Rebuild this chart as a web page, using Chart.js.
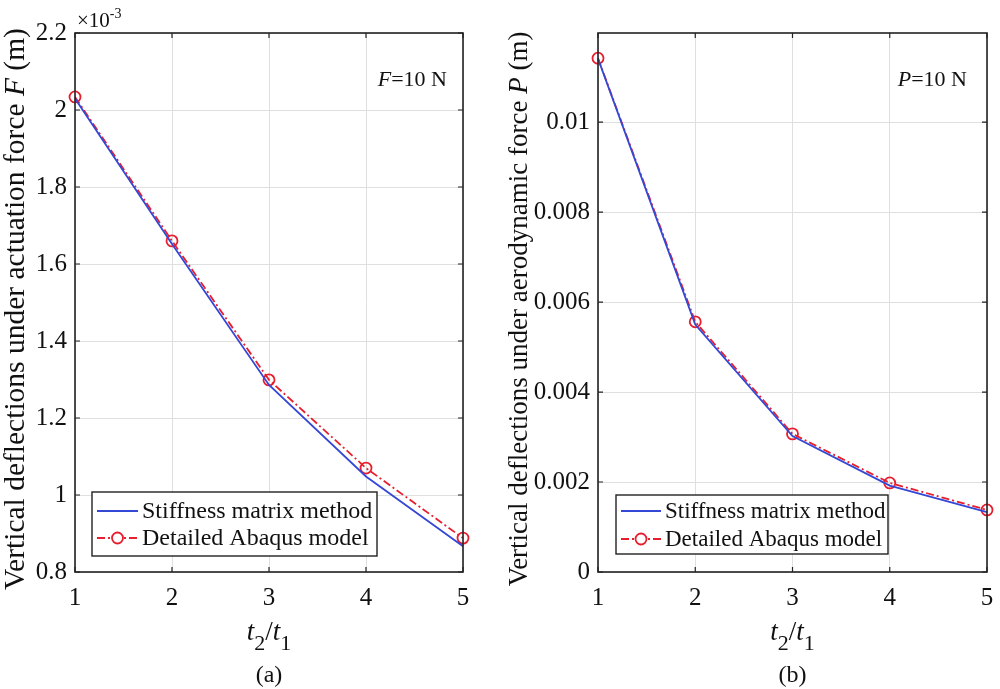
<!DOCTYPE html>
<html>
<head>
<meta charset="utf-8">
<script src="https://cdn.jsdelivr.net/npm/chart.js@4.4.1/dist/chart.umd.min.js"></script>
<style>
  body { margin: 0; background: #fff; }
  .box { position: absolute; top: 0; width: 500px; height: 689px; }
</style>
</head>
<body>
<div class="box" style="left:0"><canvas id="chartA"></canvas></div>
<div class="box" style="left:500px"><canvas id="chartB"></canvas></div>
<script>
// t2/t1 ratio
const ratios = [1, 2, 3, 4, 5];

// (a) deflection under actuation force F, in units of 1e-3 m
const stiffA = [2.030, 1.652, 1.286, 1.048, 0.867];
const abaqusA = [2.034, 1.660, 1.299, 1.070, 0.888];
const yTicksA = [0.8, 1.0, 1.2, 1.4, 1.6, 1.8, 2.0, 2.2];

// (b) deflection under aerodynamic force P, in m
const stiffB = [0.01141, 0.00550, 0.00302, 0.00192, 0.00133];
const abaqusB = [0.01142, 0.00556, 0.00307, 0.00198, 0.00138];
const yTicksB = [0, 0.002, 0.004, 0.006, 0.008, 0.01];

const xTicks = [1, 2, 3, 4, 5];
const seriesNames = ["Stiffness matrix method", "Detailed Abaqus model"];

const SERIF = "'Liberation Serif', 'Times New Roman', serif";
const BLUE = "rgb(52,72,214)";
const RED = "rgb(232,30,46)";
const DASHDOT = [8, 3, 2, 3];

const toPts = (ys) => ratios.map((x, i) => ({ x: x, y: ys[i] }));

// draws a run of text pieces with different fonts, left to right
const drawRuns = (ctx, runs, x, y, align) => {
  let total = 0;
  runs.forEach(r => { ctx.font = r.font; total += ctx.measureText(r.text).width; });
  let cx = align === "center" ? x - total / 2 : (align === "right" ? x - total : x);
  ctx.textAlign = "left";
  runs.forEach(r => {
    ctx.font = r.font;
    ctx.fillText(r.text, cx, y + (r.dy || 0));
    cx += ctx.measureText(r.text).width;
  });
};

const matlabFrame = {
  id: "matlabFrame",
  afterDraw(chart, args, o) {
    const { ctx, chartArea: a } = chart;
    const xs = chart.scales.x, ys = chart.scales.y;
    ctx.save();
    ctx.fillStyle = "#111";
    ctx.strokeStyle = "#222";

    // inward tick marks
    ctx.lineWidth = 1.2;
    ctx.beginPath();
    ys.ticks.forEach(t => {
      const y = ys.getPixelForValue(t.value);
      ctx.moveTo(a.left, y); ctx.lineTo(a.left + 5, y);
      ctx.moveTo(a.right, y); ctx.lineTo(a.right - 5, y);
    });
    xs.ticks.forEach(t => {
      const x = xs.getPixelForValue(t.value);
      ctx.moveTo(x, a.bottom); ctx.lineTo(x, a.bottom - 5);
      ctx.moveTo(x, a.top); ctx.lineTo(x, a.top + 5);
    });
    ctx.stroke();

    // axes box
    ctx.lineWidth = 1.6;
    ctx.strokeRect(a.left, a.top, a.width, a.height);

    // legend
    const L = o.legend;
    const lx = a.left + L.dx, ly = a.bottom - L.dy - L.h;
    ctx.fillStyle = "#fff";
    ctx.fillRect(lx, ly, L.w, L.h);
    ctx.lineWidth = 1.4;
    ctx.strokeRect(lx, ly, L.w, L.h);
    chart.data.datasets.forEach((ds, i) => {
      const ry = ly + L.row0 + i * L.rowGap;
      ctx.strokeStyle = ds.borderColor;
      ctx.lineWidth = ds.borderWidth;
      ctx.setLineDash(ds.borderDash || []);
      ctx.beginPath();
      ctx.moveTo(lx + 5, ry); ctx.lineTo(lx + 5 + L.sample, ry);
      ctx.stroke();
      ctx.setLineDash([]);
      if (ds.pointRadius > 0) {
        ctx.beginPath();
        ctx.arc(lx + 5 + L.sample / 2, ry, ds.pointRadius, 0, Math.PI * 2);
        ctx.fillStyle = "#fff";
        ctx.fill();
        ctx.lineWidth = ds.pointBorderWidth;
        ctx.strokeStyle = ds.pointBorderColor;
        ctx.stroke();
      }
      ctx.fillStyle = "#111";
      ctx.font = L.font;
      ctx.textAlign = "left";
      ctx.textBaseline = "middle";
      ctx.fillText(ds.label, lx + 9 + L.sample, ry + 1);
    });

    ctx.fillStyle = "#111";
    ctx.textBaseline = "alphabetic";

    // load annotation
    drawRuns(ctx, o.note, a.right - o.noteDx, a.top + 53, "right");

    // exponent label
    if (o.exponent) drawRuns(ctx, o.exponent, a.left + 2, a.top - 6, "left");

    // y title, rotated
    ctx.save();
    ctx.translate(o.yTitleX, o.yTitleY);
    ctx.rotate(-Math.PI / 2);
    drawRuns(ctx, o.yTitle, 0, 0, "center");
    ctx.restore();

    // x title t2/t1
    const cx = (a.left + a.right) / 2;
    const it = "italic 27px " + SERIF, sub = "22px " + SERIF;
    drawRuns(ctx, [
      { text: "t", font: it }, { text: "2", font: sub, dy: 10 },
      { text: "/", font: "27px " + SERIF }, { text: "t", font: it },
      { text: "1", font: sub, dy: 10 }
    ], cx, 640, "center");

    // panel caption
    drawRuns(ctx, [{ text: o.caption, font: "24px " + SERIF }], cx, 682, "center");
    ctx.restore();
  }
};

const makeChart = (id, stiff, abaqus, yMin, yMax, yTicks, fmt, yWidth, padRight, plug) => {
  const ctx = document.getElementById(id);
  return new Chart(ctx, {
    type: "line",
    data: {
      datasets: [
        {
          label: seriesNames[0],
          data: toPts(stiff),
          borderColor: BLUE,
          borderWidth: 1.8,
          pointRadius: 0,
          tension: 0,
          clip: false
        },
        {
          label: seriesNames[1],
          data: toPts(abaqus),
          borderColor: RED,
          borderWidth: 1.8,
          borderDash: DASHDOT,
          pointRadius: 5.5,
          pointBorderWidth: 1.8,
          pointBorderColor: RED,
          pointBackgroundColor: "rgba(0,0,0,0)",
          tension: 0,
          clip: false
        }
      ]
    },
    options: {
      responsive: false,
      animation: false,
      devicePixelRatio: 1,
      layout: { padding: { left: 0, right: padRight, top: 33, bottom: 0 } },
      scales: {
        x: {
          type: "linear",
          min: 1,
          max: 5,
          afterFit: (s) => { s.height = 117; s.paddingLeft = 0; s.paddingRight = 0; },
          afterBuildTicks: (s) => { s.ticks = xTicks.map(v => ({ value: v })); },
          grid: { color: "rgb(222,224,224)", lineWidth: 1, drawTicks: false },
          border: { display: false },
          ticks: {
            padding: 11,
            color: "#111",
            font: { family: SERIF, size: 25 },
            maxRotation: 0
          }
        },
        y: {
          type: "linear",
          min: yMin,
          max: yMax,
          afterFit: (s) => { s.width = yWidth; s.paddingTop = 0; s.paddingBottom = 0; },
          afterBuildTicks: (s) => { s.ticks = yTicks.map(v => ({ value: v })); },
          grid: { color: "rgb(222,224,224)", lineWidth: 1, drawTicks: false },
          border: { display: false },
          ticks: {
            padding: 8,
            color: "#111",
            font: { family: SERIF, size: 25 },
            callback: fmt
          }
        }
      },
      plugins: {
        legend: { display: false },
        tooltip: { enabled: false },
        matlabFrame: plug
      }
    },
    plugins: [matlabFrame]
  });
};

document.getElementById("chartA").width = 500;
document.getElementById("chartA").height = 689;
document.getElementById("chartB").width = 500;
document.getElementById("chartB").height = 689;

makeChart("chartA", stiffA, abaqusA, 0.8, 2.2, yTicksA,
  (v) => String(+v.toFixed(2)), 75, 37, {
    yTitleX: 24, yTitleY: 309,
    yTitle: [
      { text: "Vertical deflections under actuation force ", font: "29.5px " + SERIF },
      { text: "F", font: "italic 29.5px " + SERIF },
      { text: " (m)", font: "29.5px " + SERIF }
    ],
    note: [
      { text: "F", font: "italic 22px " + SERIF },
      { text: "=10 N", font: "22px " + SERIF }
    ],
    noteDx: 16,
    exponent: [
      { text: "\u00d710", font: "21px " + SERIF },
      { text: "-3", font: "14px " + SERIF, dy: -9 }
    ],
    caption: "(a)",
    legend: { dx: 17, dy: 16, w: 285, h: 64, row0: 19, rowGap: 27, sample: 41, font: "24px " + SERIF }
  });

makeChart("chartB", stiffB, abaqusB, 0, 0.01198, yTicksB,
  (v) => String(+v.toFixed(4)), 98, 13, {
    yTitleX: 27, yTitleY: 309,
    yTitle: [
      { text: "Vertical deflections under aerodynamic force ", font: "27px " + SERIF },
      { text: "P", font: "italic 27px " + SERIF },
      { text: " (m)", font: "27px " + SERIF }
    ],
    note: [
      { text: "P", font: "italic 22px " + SERIF },
      { text: "=10 N", font: "22px " + SERIF }
    ],
    noteDx: 20,
    exponent: null,
    caption: "(b)",
    legend: { dx: 18, dy: 18, w: 272, h: 59, row0: 16, rowGap: 28, sample: 40, font: "23px " + SERIF }
  });
</script>
</body>
</html>
